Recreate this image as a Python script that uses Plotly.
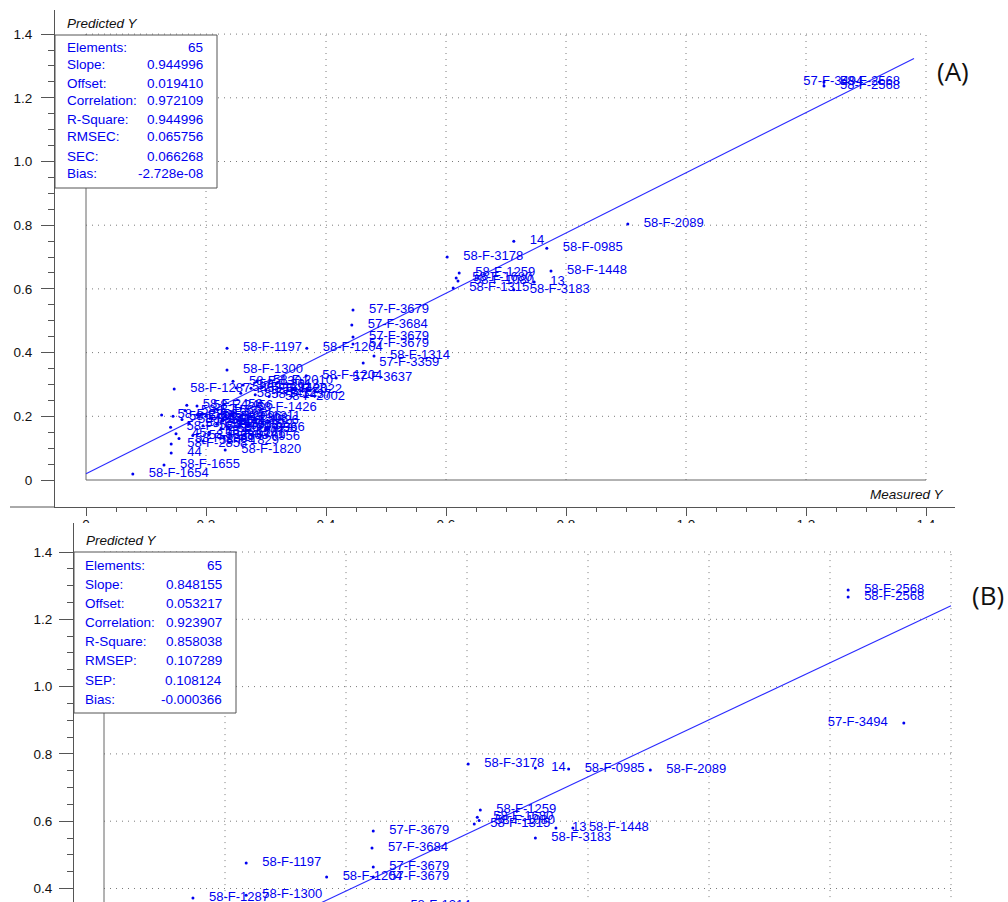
import plotly.graph_objects as go

W, H = 1008, 902

# ---------------- data ----------------
names = [
    "58-F-2568", "58-F-2568", "57-F-3494", "58-F-2089", "58-F-0985", "14", "58-F-1448", "13", "58-F-3183", "58-F-3178",
    "58-F-1259", "58-F-1680", "58-F-1080", "58-F-1315", "57-F-3679", "57-F-3684", "57-F-3679", "57-F-3679", "58-F-1204", "58-F-1204",
    "58-F-1314", "57-F-3359", "57-F-3637", "58-F-1197", "58-F-1300", "58-F-1287", "58-F-1654", "58-F-1655", "44", "58-F-2858",
    "58-F-1820", "58-F-0956", "58-F-1426", "58-F-2458", "58-F-1301", "58-F-2010", "58-F-2012", "58-F-1428", "58-F-2022", "58-F-1432",
    "58-F-2002", "58-F-1437", "58-F-1291", "58-F-2856", "58-F-2857", "58-F-1640", "58-F-1421", "58-F-1423", "58-F-0951", "58-F-0953",
    "58-F-1307", "58-F-1308", "58-F-1822", "58-F-0958", "58-F-1311", "58-F-0741", "58-F-1826", "58-F-0966", "58-F-2861", "58-F-2863",
    "58-F-1829", "58-F-2096", "58-F-2456", "58-F-1660", "45",
]
measured = [
    1.230, 1.230, 1.322, 0.903, 0.768, 0.713, 0.775, 0.747, 0.713, 0.602,
    0.622, 0.617, 0.620, 0.612, 0.445, 0.443, 0.445, 0.445, 0.368, 0.367,
    0.480, 0.462, 0.417, 0.235, 0.235, 0.147, 0.078, 0.130, 0.142, 0.142,
    0.232, 0.230, 0.258, 0.168, 0.245, 0.285, 0.262, 0.275, 0.300, 0.258,
    0.305, 0.282, 0.250, 0.126, 0.145, 0.141, 0.160, 0.172, 0.185, 0.195,
    0.205, 0.210, 0.218, 0.225, 0.232, 0.205, 0.228, 0.238, 0.155, 0.178,
    0.195, 0.200, 0.185, 0.165, 0.150,
]
pred_cal = [
    1.250, 1.237, 1.250, 0.804, 0.728, 0.750, 0.656, 0.622, 0.597, 0.700,
    0.650, 0.634, 0.625, 0.603, 0.534, 0.487, 0.449, 0.427, 0.414, 0.327,
    0.389, 0.367, 0.320, 0.414, 0.345, 0.286, 0.019, 0.047, 0.085, 0.113,
    0.094, 0.135, 0.226, 0.235, 0.310, 0.312, 0.298, 0.288, 0.282, 0.272,
    0.262, 0.268, 0.290, 0.204, 0.200, 0.166, 0.190, 0.178, 0.205, 0.170,
    0.150, 0.192, 0.175, 0.160, 0.200, 0.142, 0.185, 0.165, 0.130, 0.140,
    0.122, 0.200, 0.232, 0.218, 0.145,
]
pred_val = [
    1.287, 1.266, 0.892, 0.752, 0.755, 0.758, 0.580, 0.580, 0.550, 0.770,
    0.633, 0.612, 0.602, 0.592, 0.571, 0.520, 0.464, 0.434, 0.434, 0.300,
    0.350, 0.320, 0.290, 0.476, 0.380, 0.372, 0.060, 0.090, 0.120, 0.150,
    0.160, 0.190, 0.250, 0.260, 0.330, 0.320, 0.310, 0.300, 0.290, 0.280,
    0.300, 0.285, 0.310, 0.230, 0.220, 0.190, 0.200, 0.210, 0.230, 0.200,
    0.180, 0.210, 0.200, 0.190, 0.230, 0.170, 0.210, 0.190, 0.160, 0.170,
    0.150, 0.230, 0.270, 0.250, 0.170,
]
label_side = ["left" if n == "57-F-3494" else "right" for n in names]

stats_labels_A = ["Elements:", "Slope:", "Offset:", "Correlation:", "R-Square:", "RMSEC:", "SEC:", "Bias:"]
stats_values_A = ["65", "0.944996", "0.019410", "0.972109", "0.944996", "0.065756", "0.066268", "-2.728e-08"]
stats_labels_B = ["Elements:", "Slope:", "Offset:", "Correlation:", "R-Square:", "RMSEP:", "SEP:", "Bias:"]
stats_values_B = ["65", "0.848155", "0.053217", "0.923907", "0.858038", "0.107289", "0.108124", "-0.000366"]
slope_A, offset_A, line_end_A = 0.944996, 0.019410, 1.38
slope_B, offset_B, line_end_B = 0.848155, 0.053217, 1.40

tick_vals = [0, 0.2, 0.4, 0.6, 0.8, 1.0, 1.2, 1.4]
tick_text = ["0", "0.2", "0.4", "0.6", "0.8", "1.0", "1.2", "1.4"]
minor_vals = [round(a + (b - a) * k / 4, 3) for a, b in zip(tick_vals[:-1], tick_vals[1:]) for k in (1, 2, 3)]

# ---------------- style ----------------
FONT = "Liberation Sans, Arial, sans-serif"
BLUE = "#0000f0"
AXC = "#555555"
GRIDC = "#7a7a7a"


def xp(px):
    return px / W


def yp(py):
    return 1 - py / H


fig = go.Figure()

panels = [
    dict(xa="x", ya="y", pred=pred_cal, slope=slope_A, offset=offset_A, lend=line_end_A),
    dict(xa="x2", ya="y2", pred=pred_val, slope=slope_B, offset=offset_B, lend=line_end_B),
]

for p in panels:
    lx = [0, p["lend"]]
    ly = [p["offset"] + p["slope"] * v for v in lx]
    fig.add_trace(go.Scatter(x=lx, y=ly, mode="lines", xaxis=p["xa"], yaxis=p["ya"],
                             line=dict(color="#2a2aff", width=1.1), hoverinfo="skip", showlegend=False))
    fig.add_trace(go.Scatter(x=measured, y=p["pred"], mode="markers", xaxis=p["xa"], yaxis=p["ya"],
                             marker=dict(size=3, color=BLUE), hoverinfo="skip", showlegend=False))
    fig.add_trace(go.Scatter(x=measured, y=p["pred"], mode="markers+text", xaxis=p["xa"], yaxis=p["ya"],
                             text=names, textposition=["middle " + s for s in label_side],
                             textfont=dict(family=FONT, size=13, color=BLUE),
                             marker=dict(size=24, color="rgba(0,0,0,0)"),
                             hoverinfo="skip", showlegend=False))

shapes = []
for xa, ya in (("x", "y"), ("x2", "y2")):
    for v in tick_vals[1:]:
        shapes.append(dict(type="line", xref=xa, yref=ya, x0=v, x1=v, y0=0, y1=tick_vals[-1],
                           line=dict(color=GRIDC, width=1, dash="1px,5px"), layer="below"))
        shapes.append(dict(type="line", xref=xa, yref=ya, x0=0, x1=tick_vals[-1], y0=v, y1=v,
                           line=dict(color=GRIDC, width=1, dash="1px,5px"), layer="below"))
    shapes.append(dict(type="line", xref=xa, yref=ya, x0=0, x1=0, y0=0, y1=tick_vals[-1],
                       line=dict(color="#666666", width=1), layer="below"))
    shapes.append(dict(type="line", xref=xa, yref=ya, x0=0, x1=tick_vals[-1], y0=0, y1=0,
                       line=dict(color="#666666", width=1), layer="below"))

shapes.append(dict(type="line", xref="paper", yref="paper", x0=xp(10), x1=xp(55), y0=yp(507), y1=yp(507),
                   line=dict(color=AXC, width=1)))
shapes.append(dict(type="rect", xref="paper", yref="paper", x0=xp(55), x1=xp(217), y0=yp(188), y1=yp(35),
                   fillcolor="white", line=dict(color=AXC, width=1), layer="above"))
shapes.append(dict(type="rect", xref="paper", yref="paper", x0=xp(74), x1=xp(236), y0=yp(713), y1=yp(552),
                   fillcolor="white", line=dict(color=AXC, width=1), layer="above"))
# panel B hides the lower part of panel A's x tick labels
shapes.append(dict(type="rect", xref="paper", yref="paper", x0=xp(79), x1=1, y0=yp(534), y1=yp(523),
                   fillcolor="white", line=dict(width=0), layer="above"))

annotations = []
rowsA = [47, 65, 83, 101, 119, 137, 156, 174]
rowsB = [565, 584, 603, 622, 641, 660, 680, 699]
STAT = dict(family=FONT, size=13.5, color=BLUE)
for lab, val, r in zip(stats_labels_A, stats_values_A, rowsA):
    annotations.append(dict(x=xp(65), y=yp(r), xref="paper", yref="paper", text=lab, showarrow=False,
                            xanchor="left", yanchor="middle", font=STAT))
    annotations.append(dict(x=xp(205), y=yp(r), xref="paper", yref="paper", text=val, showarrow=False,
                            xanchor="right", yanchor="middle", font=STAT))
for lab, val, r in zip(stats_labels_B, stats_values_B, rowsB):
    annotations.append(dict(x=xp(83), y=yp(r), xref="paper", yref="paper", text=lab, showarrow=False,
                            xanchor="left", yanchor="middle", font=STAT))
    annotations.append(dict(x=xp(224), y=yp(r), xref="paper", yref="paper", text=val, showarrow=False,
                            xanchor="right", yanchor="middle", font=STAT))

ITAL = dict(family=FONT, size=13.5, color="#111", style="italic")
annotations += [
    dict(x=xp(65), y=yp(23), xref="paper", yref="paper", text="Predicted Y", showarrow=False,
         xanchor="left", yanchor="middle", font=ITAL),
    dict(x=xp(84), y=yp(540), xref="paper", yref="paper", text="Predicted Y", showarrow=False,
         xanchor="left", yanchor="middle", font=ITAL),
    dict(x=xp(946), y=yp(494), xref="paper", yref="paper", text="Measured Y", showarrow=False,
         xanchor="right", yanchor="middle", font=ITAL),
    dict(x=xp(935), y=yp(71), xref="paper", yref="paper", text="(A)", showarrow=False,
         xanchor="left", yanchor="middle", font=dict(family="Open Sans, Liberation Sans", size=26, color="#111")),
    dict(x=xp(970), y=yp(595), xref="paper", yref="paper", text="(B)", showarrow=False,
         xanchor="left", yanchor="middle", font=dict(family="Open Sans, Liberation Sans", size=26, color="#111")),
]

tickfont = dict(family=FONT, size=13.5, color="#111")
common = dict(showline=True, linecolor=AXC, linewidth=1, zeroline=False, showgrid=False,
              ticks="outside", tickcolor=AXC, tickwidth=1, tickmode="array",
              tickvals=tick_vals, ticktext=tick_text, tickfont=tickfont)

fig.update_layout(
    width=W, height=H, margin=dict(l=0, r=0, t=0, b=0),
    paper_bgcolor="white", plot_bgcolor="rgba(0,0,0,0)", showlegend=False,
    xaxis=dict(domain=[xp(55), xp(955)], range=[-31 / 600, -31 / 600 + 900 / 600], anchor="y",
               ticklen=8, ticklabelstandoff=-3,
               minor=dict(ticks="outside", ticklen=4, tickcolor=AXC, tickmode="array", tickvals=minor_vals),
               **common),
    yaxis=dict(domain=[yp(507), yp(10)], range=[-27 / 318.5, 470 / 318.5], anchor="x",
               ticklen=13, ticklabelstandoff=6,
               minor=dict(ticks="outside", ticklen=6, tickcolor=AXC, tickmode="array", tickvals=minor_vals),
               **common),
    xaxis2=dict(domain=[xp(74), xp(955)], range=[-30 / 605, -30 / 605 + 881 / 605], anchor="y2",
                visible=False),
    yaxis2=dict(domain=[0, yp(523)], range=[1.4 - 350 / 336.5, 1.4 + 29 / 336.5], anchor="x2",
                ticklen=14, ticklabelstandoff=4,
                minor=dict(ticks="outside", ticklen=6, tickcolor=AXC, tickmode="array", tickvals=minor_vals),
                **common),
    shapes=shapes, annotations=annotations,
)

fig.write_html("out.html", config={"displayModeBar": False},
               post_script="document.body.style.margin='0';document.documentElement.style.overflow='hidden';")
